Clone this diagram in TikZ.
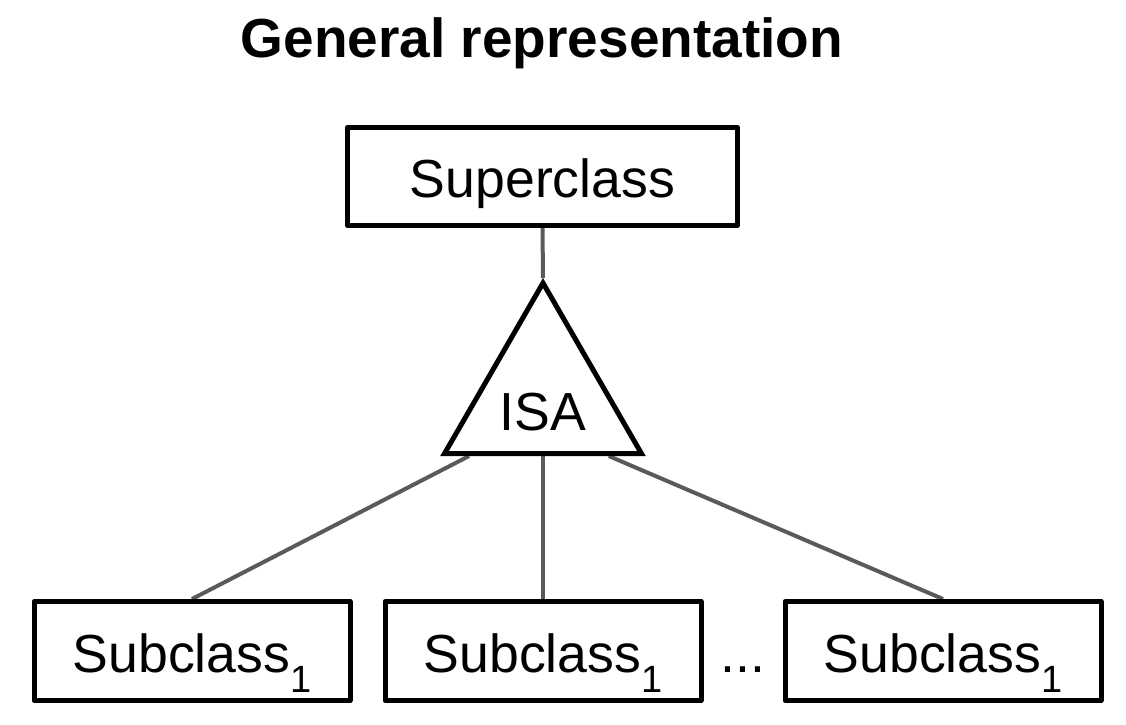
\documentclass[tikz,border=0pt]{standalone}
\usepackage{fontspec}
\setmainfont{Liberation Sans}
\usetikzlibrary{
	positioning,
	calc,
	backgrounds,
	shapes.geometric
}
\definecolor{linkgray}{HTML}{5A5A5A}
\newcommand{\subidx}[1]{\raisebox{-10pt}{\fontsize{19}{19}\selectfont #1}}

\begin{document}
\begin{tikzpicture}[
		x=0.5pt, y=-0.5pt,
		node distance=15pt,
		every node/.style={font=\fontsize{26.8}{32}\selectfont},
		entity/.style={draw, line width=2.5pt, line join=round, inner sep=0pt,
			minimum width=195pt, minimum height=49pt, text height=21pt, text depth=0pt},
		subentity/.style={entity, minimum width=158pt, minimum height=49.5pt},
		isa/.style={draw, line width=2.5pt, regular polygon, regular polygon sides=3,
			minimum size=113.7pt, inner sep=0pt},
		link/.style={draw=linkgray, line width=2pt}
		]
		
		\useasboundingbox (0,0) rectangle (1126,724);
		
		\node[anchor=base, font=\bfseries\fontsize{27.5}{32}\selectfont] (title) at (542,57) {General representation};
		
		\node[entity] (super) at (542.5,176.5) {Superclass};
		\node[isa, label={[yshift=-7.9pt]center:ISA}] (isa) at (543,396.7) {};
		
		\node[subentity] (sub2) at (543,651) {Subclass\subidx{1}};
		\node[subentity, left=of sub2] (sub1) {Subclass\subidx{1}};
		\node[subentity, right=39.5pt of sub2] (sub3) {Subclass\subidx{1}};
		\node[anchor=base] (dots) at ($(sub2.base east)!0.5!(sub3.base west)$) {...};
		
		% connectors behind the shapes
		\begin{scope}[on background layer]
			\draw[link] (super.south) -- (isa.corner 1);
			\draw[link] ($(isa.corner 2)!0.14!(isa.corner 3)$) -- (sub1.north);
			\draw[link] ($(isa.corner 2)!0.5!(isa.corner 3)$) -- (sub2.north);
			\draw[link] ($(isa.corner 2)!0.82!(isa.corner 3)$) -- (sub3.north);
		\end{scope}
		
	\end{tikzpicture}
\end{document}
